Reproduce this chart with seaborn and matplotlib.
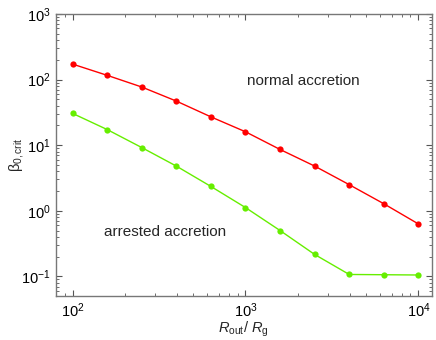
import numpy as np
import pandas as pd
import matplotlib
matplotlib.use("Agg")
import matplotlib.pyplot as plt
import seaborn as sns

r_out = [100, 158.5, 251.2, 398.1, 631.0, 1000, 1584.9, 2511.9, 3981.1, 6309.6, 10000]
beta_normal = [172, 116, 77, 47, 27, 16, 8.6, 4.8, 2.5, 1.28, 0.63]
beta_arrested = [30.5, 17.3, 9.2, 4.8, 2.35, 1.12, 0.50, 0.216, 0.107, 0.106, 0.105]

sns.set_theme(style="ticks")
plt.rcParams['font.family'] = ['Liberation Sans', 'DejaVu Sans']
plt.rcParams['mathtext.fontset'] = 'custom'
plt.rcParams['mathtext.rm'] = 'Liberation Sans'
plt.rcParams['mathtext.it'] = 'Liberation Sans:italic'

df = pd.DataFrame({
    "r": r_out * 2,
    "beta": beta_normal + beta_arrested,
    "series": ["normal"] * len(r_out) + ["arrested"] * len(r_out),
})

fig = plt.figure(figsize=(4.36, 3.40), dpi=100)
ax = fig.add_axes([0.128, 0.129, 0.863, 0.830])
sns.lineplot(data=df, x="r", y="beta", hue="series",
             palette={"normal": "#ff0000", "arrested": "#66ee00"},
             marker="o", markersize=4.5, markeredgewidth=0, linewidth=1.0,
             legend=False, ax=ax)
ax.set_xscale("log")
ax.set_yscale("log")
ax.set_xlim(80, 12000)
ax.set_ylim(0.05, 1000)

for s in ax.spines.values():
    s.set_color("#777777")
    s.set_linewidth(1.0)
ax.tick_params(which="both", direction="in", top=True, right=True,
               colors="#555555", labelcolor="black", labelsize=10.5)
ax.tick_params(which="major", length=4, width=0.8)
ax.tick_params(which="minor", length=2, width=0.6)

ax.set_xlabel(r"$R_{\rm out}$/ $R_{\rm g}$", fontsize=10.5, labelpad=0)
ax.set_ylabel(r"β$_{\rm 0,crit}$", fontsize=10.5, labelpad=-3)

ax.text(2160, 96, "normal accretion", fontsize=11, ha="center", va="center")
ax.text(345, 0.48, "arrested accretion", fontsize=11, ha="center", va="center")

fig.savefig("out.png", dpi=100)
